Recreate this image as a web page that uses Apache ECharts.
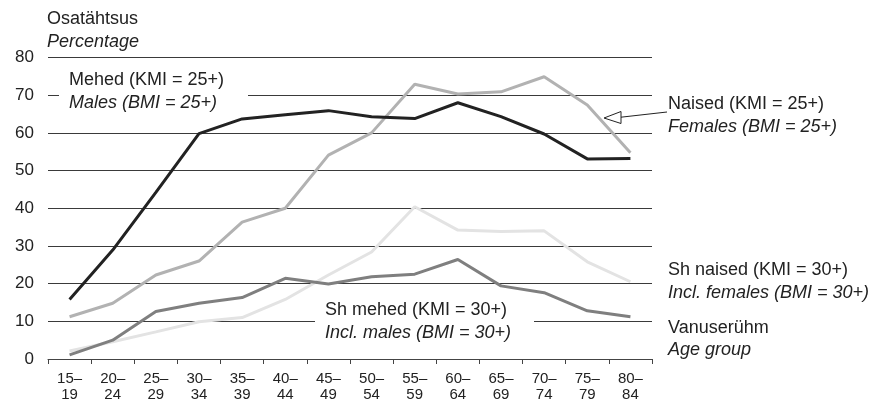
<!DOCTYPE html>
<html>
<head>
<meta charset="utf-8">
<script src="https://cdn.jsdelivr.net/npm/echarts@6/dist/echarts.min.js"></script>
<style>
html,body{margin:0;padding:0;background:#fff;}
#c{width:872px;height:408px;}
</style>
</head>
<body>
<div id="c"></div>
<script>
var categories = ['15–\n19','20–\n24','25–\n29','30–\n34','35–\n39','40–\n44','45–\n49','50–\n54','55–\n59','60–\n64','65–\n69','70–\n74','75–\n79','80–\n84'];
var yTicks = [0,10,20,30,40,50,60,70,80];
var males25 = [15.8, 28.9, 44.2, 59.8, 63.7, 64.8, 65.9, 64.3, 63.8, 68.0, 64.3, 59.7, 53.1, 53.2];
var females25 = [11.2, 14.8, 22.3, 26.0, 36.3, 40.0, 54.1, 60.0, 72.9, 70.3, 70.9, 74.9, 67.4, 54.7];
var males30 = [1.1, 5.0, 12.6, 14.8, 16.3, 21.4, 19.9, 21.8, 22.5, 26.4, 19.4, 17.6, 12.8, 11.2];
var females30 = [2.1, 4.6, 7.2, 9.9, 11.0, 15.8, 22.3, 28.4, 40.4, 34.2, 33.8, 34.0, 25.8, 20.5];

var FONT = '"Liberation Sans", Arial, sans-serif';
var chart = echarts.init(document.getElementById('c'), null, {renderer:'canvas'});

function txt(x, y, s, italic, z) {
  return {type:'text', x:x, y:y, z: z||100, style:{text:s, fill:'#222', font:(italic?'italic ':'') + '18px ' + FONT, textVerticalAlign:'middle', verticalAlign:'middle'}};
}

var option = {
  animation:false,
  backgroundColor:'#fff',
  grid:{left:48, right:220, top:57.5, bottom:49, containLabel:false},
  xAxis:{
    type:'category', data:categories, boundaryGap:true,
    axisLine:{show:true, lineStyle:{color:'#444', width:1}},
    axisTick:{show:true, length:5, interval:0, lineStyle:{color:'#444'}},
    axisLabel:{interval:0, fontSize:15, lineHeight:16, margin:12, color:'#222', fontFamily:FONT},
    splitLine:{show:false}
  },
  yAxis:{
    type:'value', min:yTicks[0], max:yTicks[yTicks.length-1], interval:10,
    axisLine:{show:false}, axisTick:{show:false},
    axisLabel:{fontSize:17, margin:14, color:'#222', fontFamily:FONT},
    splitLine:{show:true, lineStyle:{color:'#3a3a3a', width:1}}
  },
  series:[
    {type:'line', data:females30, symbol:'none', lineStyle:{color:'#e3e3e3', width:3}, z:2},
    {type:'line', data:males30, symbol:'none', lineStyle:{color:'#7f7f7f', width:3}, z:3},
    {type:'line', data:females25, symbol:'none', lineStyle:{color:'#b2b2b2', width:3}, z:4},
    {type:'line', data:males25, symbol:'none', lineStyle:{color:'#222', width:3}, z:5}
  ],
  graphic:[
    txt(47, 19, 'Osatähtsus', false),
    txt(47, 42, 'Percentage', true),
    {type:'rect', z:50, shape:{x:59, y:66, width:189, height:50}, style:{fill:'#fff'}},
    txt(69, 80, 'Mehed (KMI = 25+)', false),
    txt(69, 103, 'Males (BMI = 25+)', true),
    {type:'rect', z:50, shape:{x:315, y:298, width:219, height:46}, style:{fill:'#fff'}},
    txt(325, 310, 'Sh mehed (KMI = 30+)', false),
    txt(325, 333, 'Incl. males (BMI = 30+)', true),
    txt(668, 104, 'Naised (KMI = 25+)', false),
    txt(668, 127, 'Females (BMI = 25+)', true),
    txt(668, 270, 'Sh naised (KMI = 30+)', false),
    txt(668, 293, 'Incl. females (BMI = 30+)', true),
    txt(668, 328, 'Vanuserühm', false),
    txt(668, 350, 'Age group', true),
    {type:'line', z:100, shape:{x1:667, y1:112, x2:620, y2:117.3}, style:{stroke:'#222', lineWidth:1}},
    {type:'polygon', z:100, shape:{points:[[604,118],[621,111.5],[621,123.5]]}, style:{fill:'#fff', stroke:'#222', lineWidth:1}}
  ]
};
chart.setOption(option);
</script>
</body>
</html>
